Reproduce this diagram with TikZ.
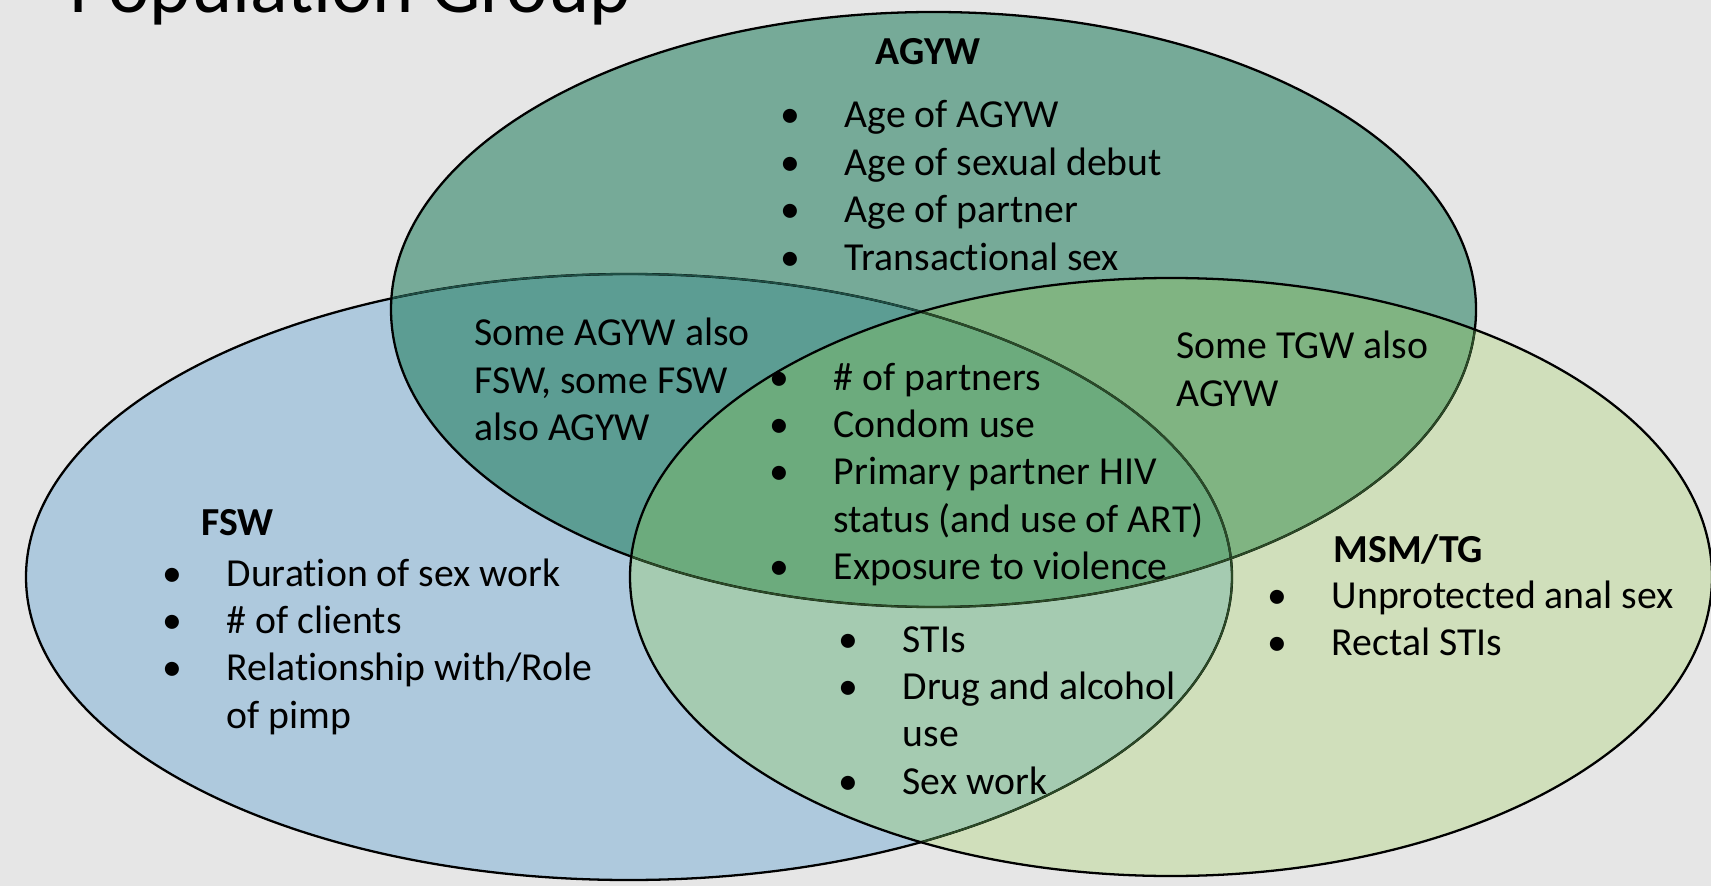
\documentclass[tikz,border=0pt]{standalone}
\usepackage{fontspec}
\setmainfont{Carlito}[Ligatures=NoCommon]
\usepackage{tikz}
\usetikzlibrary{positioning}

\definecolor{bgcol}{HTML}{E6E6E6}
\definecolor{fswcol}{HTML}{AEC9DD}
\definecolor{agywcol}{HTML}{76AA98}
\definecolor{msmcol}{HTML}{D0DFBB}
\definecolor{facol}{HTML}{5C9D93}
\definecolor{amcol}{HTML}{80B482}
\definecolor{fmcol}{HTML}{A5CBB1}
\definecolor{famcol}{HTML}{6CAB7D}
\definecolor{tealline}{HTML}{1E4E44}
\definecolor{oliveline}{HTML}{2B4A26}

% the three sets
\def\fswset{(629,577) ellipse [x radius=603, y radius=303]}
\def\agywset{(933.5,309.5) ellipse [x radius=542.5, y radius=297.5]}
\def\msmset{(1171,577) ellipse [x radius=541, y radius=299]}

\newcommand{\itm}{\makebox[6.4mm][l]{\textbullet}}
\newcommand{\cnt}{\hspace*{6.4mm}}
\newcommand{\blist}[1]{\begin{tabular}[t]{@{}l@{}}#1\end{tabular}}

\tikzset{
  txt/.style={anchor=base west, inner sep=0pt, font=\fontsize{11.3}{13.5}\selectfont},
  head/.style={txt, font=\fontsize{11.3}{13.5}\selectfont\bfseries},
  rim/.style={draw=black, line width=0.65pt},
  innerrim/.style={line width=0.55pt},
}

\begin{document}
\begin{tikzpicture}[x=0.1mm, y=-0.1mm]
\useasboundingbox (0,0) rectangle (1711,886);
\clip (0,0) rectangle (1711,886);
\fill[bgcol] (0,0) rectangle (1711,886);

% fills
\fill[fswcol] \fswset;
\fill[agywcol] \agywset;
\fill[msmcol] \msmset;
\begin{scope}
  \clip \fswset;
  \fill[facol] \agywset;
  \fill[fmcol] \msmset;
\end{scope}
\begin{scope}
  \clip \agywset;
  \fill[amcol] \msmset;
\end{scope}
\begin{scope}
  \clip \fswset;
  \clip \agywset;
  \fill[famcol] \msmset;
\end{scope}

% outlines
\draw[rim] \fswset;
\begin{scope}
  \clip \agywset;
  \draw[innerrim, tealline] \fswset;
\end{scope}
\begin{scope}
  \clip \msmset;
  \draw[innerrim, oliveline] \fswset;
\end{scope}
\draw[rim] \agywset;
\begin{scope}
  \clip \msmset;
  \draw[innerrim, oliveline] \agywset;
\end{scope}
\draw[rim] \msmset;

% nodes
\node[anchor=base west, inner sep=0pt, font=\fontsize{22.3}{26}\selectfont] (title) at (69,13) {Population Group};

\node[head] (agyw) at (875,65) {AGYW};
\node[txt] (agywlist) at (780,128) {\blist{\itm Age of AGYW\\ \itm Age of sexual debut\\ \itm Age of partner\\ \itm Transactional sex}};

\node[head] (fsw) at (201,535) {FSW};
\node[txt] (fswlist) at (162,586) {\blist{\itm Duration of sex work\\ \itm \# of clients\\ \itm Relationship with/Role\\ \cnt of pimp}};

\node[head] (msm) at (1333,562) {MSM/TG};
\node[txt] (msmlist) at (1267,608) {\blist{\itm Unprotected anal sex\\ \itm Rectal STIs}};

\node[txt] (agywfsw) at (474,346) {\blist{Some AGYW also\\ FSW, some FSW\\ also AGYW}};
\node[txt] (tgwagyw) at (1176,359) {\blist{Some TGW also\\ AGYW}};

\node[txt] (shared) at (769,390) {\blist{\itm \# of partners\\ \itm Condom use\\ \itm Primary partner HIV\\ \cnt status (and use of ART)\\ \itm Exposure to violence}};
\node[txt] (fswmsm) at (838,652) {\blist{\itm STIs\\ \itm Drug and alcohol\\ \cnt use\\ \itm Sex work}};
\end{tikzpicture}
\end{document}
